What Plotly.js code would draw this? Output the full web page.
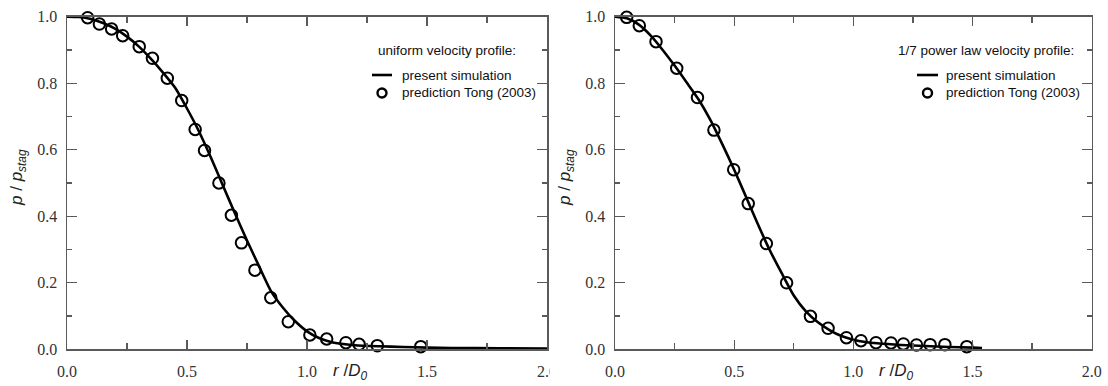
<!DOCTYPE html>
<html>
<head>
<meta charset="utf-8">
<script src="https://cdn.plot.ly/plotly-3.0.1.min.js"></script>
<style>
  html, body { margin: 0; padding: 0; background: #fff; }
  #chart { width: 1108px; height: 386px; }
</style>
</head>
<body>
<div id="chart"></div>
<script>
// ---- data ----
var leftSimR = [0,0.05,0.1,0.15,0.2,0.25,0.3,0.35,0.4,0.45,0.5,0.55,0.6,0.65,0.7,0.75,0.8,0.85,0.9,0.95,1.0,1.05,1.1,1.15,1.2,1.3,1.4,1.5,1.6,1.8,2.0];
var leftSimP = [1.000,0.999,0.993,0.981,0.964,0.940,0.910,0.873,0.832,0.787,0.724,0.655,0.576,0.492,0.408,0.327,0.250,0.175,0.125,0.085,0.054,0.034,0.022,0.016,0.012,0.009,0.007,0.005,0.004,0.003,0.002];
var leftTongR = [0.086,0.135,0.186,0.232,0.301,0.356,0.418,0.478,0.534,0.573,0.633,0.685,0.727,0.783,0.849,0.922,1.012,1.082,1.162,1.217,1.293,1.474];
var leftTongP = [0.997,0.978,0.963,0.943,0.910,0.875,0.815,0.748,0.661,0.598,0.500,0.403,0.320,0.238,0.155,0.083,0.043,0.031,0.020,0.015,0.011,0.008];

var rightSimR = [0,0.05,0.1,0.15,0.2,0.25,0.3,0.35,0.4,0.45,0.5,0.55,0.6,0.65,0.7,0.75,0.8,0.85,0.9,0.95,1.0,1.05,1.1,1.2,1.3,1.4,1.5,1.54];
var rightSimP = [1.000,0.995,0.976,0.943,0.900,0.853,0.803,0.752,0.690,0.617,0.540,0.458,0.375,0.297,0.228,0.162,0.115,0.082,0.058,0.040,0.029,0.022,0.018,0.013,0.010,0.007,0.005,0.004];
var rightTongR = [0.049,0.102,0.172,0.259,0.346,0.415,0.498,0.559,0.635,0.720,0.820,0.894,0.971,1.032,1.095,1.158,1.210,1.265,1.322,1.384,1.476];
var rightTongP = [0.998,0.973,0.925,0.845,0.757,0.659,0.540,0.438,0.318,0.200,0.099,0.063,0.035,0.026,0.020,0.019,0.016,0.013,0.014,0.014,0.008];

var xTickVals = [0, 0.5, 1.0, 1.5, 2.0];
var xTickText = ['0.0', '0.5', '1.0', '1.5', '2.0'];
var yTickVals = [0, 0.2, 0.4, 0.6, 0.8, 1.0];
var yTickText = ['0.0', '0.2', '0.4', '0.6', '0.8', '1.0'];

var leftLegendTitle = 'uniform velocity profile:';
var rightLegendTitle = '1/7 power law velocity profile:';
var simLabel = 'present simulation';
var tongLabel = 'prediction Tong (2003)';

// ---- helpers ----
var W = 1108, H = 386;
function px(x) { return x / W; }
function py(y) { return 1 - y / H; }

var lineStyle = { color: '#000', width: 2.6, shape: 'spline', smoothing: 0.6 };
var markerStyle = { symbol: 'circle-open', size: 11.5, color: '#000', line: { color: '#000', width: 2 } };

var traces = [
  { x: leftSimR, y: leftSimP, xaxis: 'x', yaxis: 'y', mode: 'lines', line: lineStyle, cliponaxis: false, showlegend: false, hoverinfo: 'skip' },
  { x: leftTongR, y: leftTongP, xaxis: 'x', yaxis: 'y', mode: 'markers', marker: markerStyle, cliponaxis: false, showlegend: false, hoverinfo: 'skip' },
  { x: rightSimR, y: rightSimP, xaxis: 'x2', yaxis: 'y2', mode: 'lines', line: lineStyle, cliponaxis: false, showlegend: false, hoverinfo: 'skip' },
  { x: rightTongR, y: rightTongP, xaxis: 'x2', yaxis: 'y2', mode: 'markers', marker: markerStyle, cliponaxis: false, showlegend: false, hoverinfo: 'skip' }
];

var axisColor = '#5a5a5a';
var tickFont = { family: 'Liberation Serif, Times New Roman, serif', size: 16, color: '#333' };

function xAxis(domain, anchor) {
  return {
    domain: domain, anchor: anchor, range: [0, 2], fixedrange: true,
    tickmode: 'array', tickvals: xTickVals, ticktext: xTickText,
    ticks: 'inside', ticklen: 9, tickwidth: 1.3, tickcolor: axisColor,
    minor: { dtick: 0.25, tick0: 0, ticks: 'inside', ticklen: 6, tickwidth: 1.3, tickcolor: axisColor, showgrid: false },
    showline: true, linecolor: axisColor, linewidth: 1.5, mirror: 'ticks',
    showgrid: false, zeroline: false, tickfont: tickFont, ticklabelstandoff: 7
  };
}
function yAxis(domain, anchor) {
  return {
    domain: domain, anchor: anchor, range: [0, 1], fixedrange: true,
    tickmode: 'array', tickvals: yTickVals, ticktext: yTickText,
    ticks: 'inside', ticklen: 10, tickwidth: 1.3, tickcolor: axisColor,
    minor: { dtick: 0.1, tick0: 0, ticks: 'inside', ticklen: 5, tickwidth: 1.3, tickcolor: axisColor, showgrid: false },
    showline: true, linecolor: axisColor, linewidth: 1.5, mirror: 'ticks',
    showgrid: false, zeroline: false, tickfont: tickFont, ticklabelstandoff: 5
  };
}

var yDom = [py(349.3), py(16.7)];
var legendFont = { family: 'Liberation Sans, Arial, sans-serif', size: 13.5, color: '#111' };
var titleFont = { family: 'Liberation Sans, Arial, sans-serif', size: 17, color: '#222' };

function legendBlock(titleRightX, titleText, sampleX0, sampleX1, textX) {
  var ann = [
    { xref: 'paper', yref: 'paper', x: px(titleRightX), y: py(50), xanchor: 'right', yanchor: 'middle', text: titleText, showarrow: false, font: legendFont },
    { xref: 'paper', yref: 'paper', x: px(textX), y: py(75), xanchor: 'left', yanchor: 'middle', text: simLabel, showarrow: false, font: legendFont },
    { xref: 'paper', yref: 'paper', x: px(textX), y: py(93), xanchor: 'left', yanchor: 'middle', text: tongLabel, showarrow: false, font: legendFont }
  ];
  var cx = (sampleX0 + sampleX1) / 2;
  var shp = [
    { type: 'line', xref: 'paper', yref: 'paper', x0: px(sampleX0), x1: px(sampleX1), y0: py(75), y1: py(75), line: { color: '#000', width: 2.6 } },
    { type: 'circle', xref: 'paper', yref: 'paper', xsizemode: 'pixel', ysizemode: 'pixel', xanchor: px(cx), yanchor: py(93), x0: -4.5, x1: 4.5, y0: -4.5, y1: 4.5, line: { color: '#000', width: 2.4 } }
  ];
  return { ann: ann, shp: shp };
}

var legL = legendBlock(518, leftLegendTitle, 372, 392, 400);
var legR = legendBlock(1076, rightLegendTitle, 917, 938, 944);

var yTitleText = '<i>p</i> / <i>p<sub>stag</sub></i>';
var xTitleText = '<i>r</i> /<i>D<sub>0</sub></i>';

var annotations = legL.ann.concat(legR.ann).concat([
  { xref: 'paper', yref: 'paper', x: px(18), y: py(178), textangle: -90, xanchor: 'center', yanchor: 'middle', text: yTitleText, showarrow: false, font: titleFont },
  { xref: 'paper', yref: 'paper', x: px(566), y: py(178), textangle: -90, xanchor: 'center', yanchor: 'middle', text: yTitleText, showarrow: false, font: titleFont },
  { xref: 'x', yref: 'paper', x: 1.18, y: py(372), xanchor: 'center', yanchor: 'middle', text: xTitleText, showarrow: false, font: titleFont },
  { xref: 'x2', yref: 'paper', x: 1.18, y: py(372), xanchor: 'center', yanchor: 'middle', text: xTitleText, showarrow: false, font: titleFont }
]);

var shapes = legL.shp.concat(legR.shp).concat([
  // the reference image is cut just right of the left panel, clipping its last tick label
  { type: 'rect', xref: 'paper', yref: 'paper', x0: px(550), x1: px(566), y0: 0, y1: py(354), fillcolor: '#fff', line: { width: 0 }, layer: 'above' }
]);

var layout = {
  width: W, height: H,
  margin: { l: 0, r: 0, t: 0, b: 0, pad: 0 },
  paper_bgcolor: '#fff', plot_bgcolor: '#fff',
  showlegend: false,
  xaxis: xAxis([px(67), px(547)], 'y'),
  yaxis: yAxis(yDom, 'x'),
  xaxis2: xAxis([px(615), px(1091.7)], 'y2'),
  yaxis2: yAxis(yDom, 'x2'),
  annotations: annotations,
  shapes: shapes
};

Plotly.newPlot('chart', traces, layout, { staticPlot: true, displayModeBar: false });
</script>
</body>
</html>
